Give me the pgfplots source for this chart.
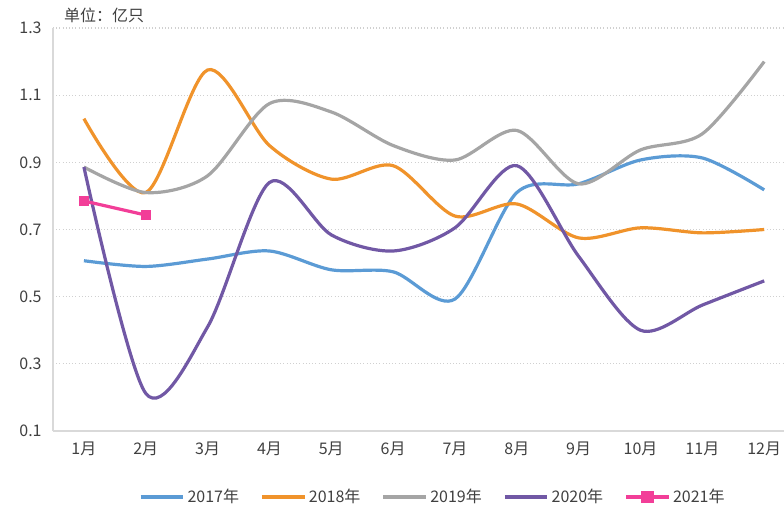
\documentclass[border=0pt]{standalone}
\usepackage{pgfplots}
\pgfplotsset{compat=1.18}
\usepackage{fontspec}
\setmainfont{Noto Sans CJK SC}
\definecolor{c17}{HTML}{5B9BD5}
\definecolor{c18}{HTML}{F0932B}
\definecolor{c19}{HTML}{A5A5A5}
\definecolor{c20}{HTML}{7158A5}
\definecolor{c21}{HTML}{F23E98}
\definecolor{gridc}{HTML}{D0D0D0}
\definecolor{axc}{HTML}{D9D9D9}
\definecolor{txt}{HTML}{404040}
\begin{document}
\begin{tikzpicture}
\useasboundingbox (-39.75pt,-59.25pt) rectangle (548.25pt,323.25pt);
\begin{axis}[
  at={(0,0)}, anchor=south west,
  scale only axis, width=548.25pt, height=302.25pt,
  xmin=0.5, xmax=12.32, ymin=0.1, ymax=1.3,
  xtick={1,...,12},
  xticklabels={1月,2月,3月,4月,5月,6月,7月,8月,9月,10月,11月,12月},
  ytick={0.1,0.3,0.5,0.7,0.9,1.1,1.3},
  /pgf/number format/fixed, /pgf/number format/precision=1,
  /pgf/number format/fixed zerofill,
  /pgf/number format/assume math mode=true,
  tick label style={font=\fontsize{12pt}{14pt}\selectfont, text=txt},
  xticklabel style={yshift=-5pt},
  yticklabel style={xshift=-5pt},
  major tick length=0pt,
  axis x line*=bottom, axis y line*=left,
  axis line style={axc, line width=1pt, -},
  ymajorgrids, grid style={gridc, dotted, line width=0.8pt},
  every axis plot/.append style={line width=2.4pt, smooth, tension=0.5},
  legend style={at={(0.52,-0.164)}, anchor=center, draw=none, fill=none,
    font=\fontsize{12pt}{14pt}\selectfont, text=txt,
    legend columns=5, /tikz/every even column/.append style={column sep=14pt}},
  legend image code/.code={\draw[#1, line width=2.4pt] (0pt,0pt) -- (32pt,0pt);},
  clip=false,
]
\addplot[c17, mark=none] coordinates {(1,0.607)(2,0.59)(3,0.612)(4,0.636)(5,0.58)(6,0.574)(7,0.493)(8,0.81)(9,0.836)(10,0.907)(11,0.913)(12,0.818)};
\addlegendentry{2017年}
\addplot[c18, mark=none] coordinates {(1,1.03)(2,0.81)(3,1.175)(4,0.95)(5,0.85)(6,0.89)(7,0.74)(8,0.776)(9,0.675)(10,0.705)(11,0.69)(12,0.70)};
\addlegendentry{2018年}
\addplot[c19, mark=none] coordinates {(1,0.886)(2,0.81)(3,0.86)(4,1.075)(5,1.05)(6,0.95)(7,0.907)(8,0.995)(9,0.836)(10,0.937)(11,0.985)(12,1.2)};
\addlegendentry{2019年}
\addplot[c20, mark=none] coordinates {(1,0.886)(2,0.212)(3,0.41)(4,0.84)(5,0.684)(6,0.636)(7,0.705)(8,0.89)(9,0.62)(10,0.40)(11,0.475)(12,0.547)};
\addlegendentry{2020年}
\addplot[c21, sharp plot, mark=square*, mark size=3.4pt, mark options={solid, fill=c21, line width=0pt},
  legend image code/.code={\draw[c21, line width=2.4pt] (0pt,0pt) -- (32pt,0pt); \fill[c21] (12.6pt,-3.4pt) rectangle (19.4pt,3.4pt);}]
  coordinates {(1,0.785)(2,0.743)};
\addlegendentry{2021年}
\node[anchor=south west, font=\fontsize{12pt}{14pt}\selectfont, text=txt, inner sep=0pt] at (axis description cs:0.015,1.012) {单位：亿只};
\end{axis}
\end{tikzpicture}
\end{document}
